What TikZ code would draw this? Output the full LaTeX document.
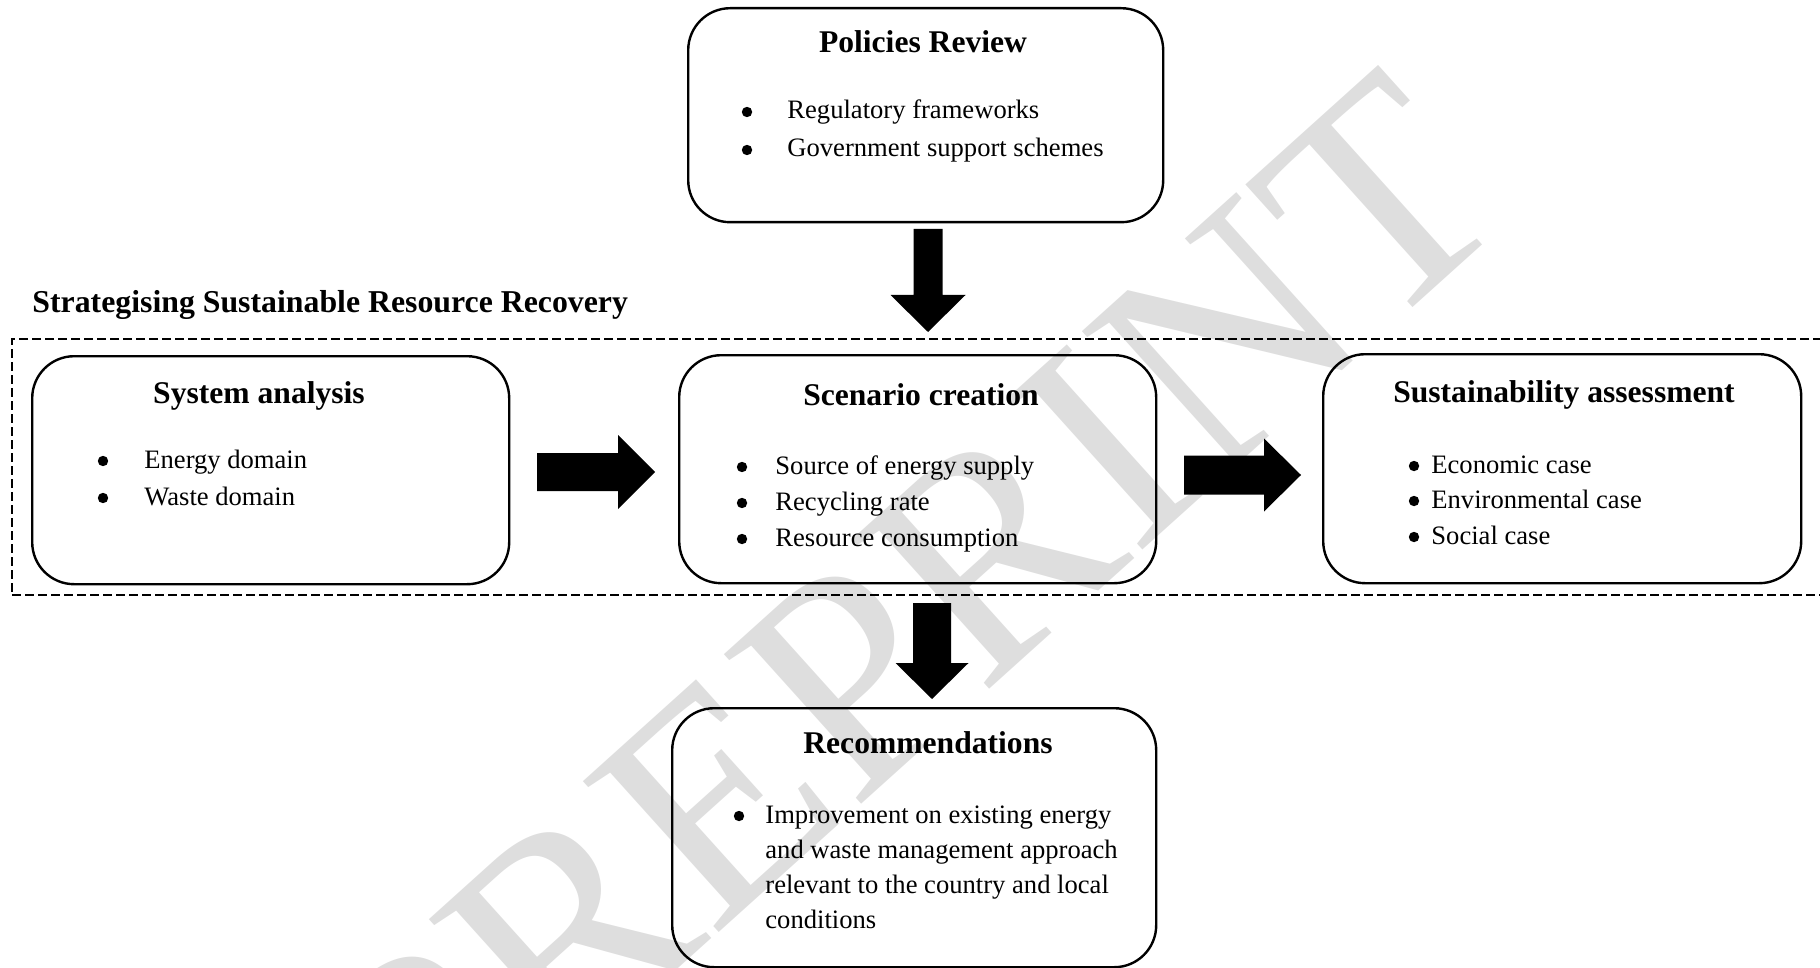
\documentclass[tikz,border=0pt]{standalone}
\usepackage{fontspec}
\setmainfont{Liberation Serif}
\definecolor{wm}{gray}{0.87}
\begin{document}
\begin{tikzpicture}[x=0.5pt,y=-0.5pt,
  box/.style={draw, line width=1.2pt, rounded corners=21pt, inner sep=0pt, anchor=north west},
  head/.style={font=\fontsize{15.8}{19}\selectfont\bfseries, anchor=base, inner sep=0pt},
  item/.style={font=\fontsize{13.3}{16}\selectfont, anchor=base west, inner sep=0pt},
  bul/.style={circle, fill, minimum size=5.2pt, inner sep=0pt},
  frame/.style={draw, line width=1pt, dash pattern=on 4.5pt off 2pt, anchor=north west, inner sep=0pt},
  pics/downblk/.style n args={4}{code={
    \fill (-#2/2,0) -- (#2/2,0) -- (#2/2,#1-#4) -- (#3/2,#1-#4) -- (0,#1)
          -- (-#3/2,#1-#4) -- (-#2/2,#1-#4) -- cycle;}},
  pics/rightblk/.style n args={4}{code={
    \fill (0,-#2/2) -- (#1-#4,-#2/2) -- (#1-#4,-#3/2) -- (#1,0)
          -- (#1-#4,#3/2) -- (#1-#4,#2/2) -- (0,#2/2) -- cycle;}}
]
\useasboundingbox (0,0) rectangle (1820,968);

% watermark behind everything
\node[text=wm, rotate=42, anchor=base east, font=\fontsize{155}{155}\selectfont, inner sep=0pt] (wmark) at (1519,212) {PREPRINT};

% Policies review
\node[box, minimum width=237.5pt, minimum height=107pt] (pol) at (687,7) {};
\node[head] (polh) at (923,53) {Policies Review};
\node[bul] (polb1) at (747,112) {};
\node[item] (pol1) at (787,119) {Regulatory frameworks};
\node[bul] (polb2) at (747,150) {};
\node[item] (pol2) at (787,157) {Government support schemes};

\pic (d1) at (928,229) {downblk={103}{29}{75}{37}};

% framework title and dashed frame
\node[head, anchor=base west, font=\fontsize{15.9}{19}\selectfont\bfseries] (title) at (32,313) {Strategising Sustainable Resource Recovery};
\node[frame, minimum width=915pt, minimum height=128pt] (frame) at (11,338) {};

% System analysis
\node[box, minimum width=238.5pt, minimum height=114pt] (sys) at (31,355) {};
\node[head] (sysh) at (259,403) {System analysis};
\node[bul] (sysb1) at (103,461) {};
\node[item] (sys1) at (144,468) {Energy domain};
\node[bul] (sysb2) at (103,498) {};
\node[item] (sys2) at (144,505) {Waste domain};

\pic (r1) at (537,472) {rightblk={118}{38}{74}{37}};

% Scenario creation
\node[box, minimum width=238.5pt, minimum height=114pt] (scn) at (678,354) {};
\node[head] (scnh) at (921,405) {Scenario creation};
\node[bul] (scnb1) at (742,467) {};
\node[item] (scn1) at (775,474) {Source of energy supply};
\node[bul] (scnb2) at (742,503) {};
\node[item] (scn2) at (775,510) {Recycling rate};
\node[bul] (scnb3) at (742,539) {};
\node[item] (scn3) at (775,546) {Resource consumption};

\pic (r2) at (1184,475) {rightblk={117}{39}{73}{37}};

% Sustainability assessment
\node[box, minimum width=239pt, minimum height=114.5pt] (sus) at (1322,353) {};
\node[head] (sush) at (1564,402) {Sustainability assessment};
\node[bul] (susb1) at (1414,466) {};
\node[item] (sus1) at (1431,473) {Economic case};
\node[bul] (susb2) at (1414,501) {};
\node[item] (sus2) at (1431,508) {Environmental case};
\node[bul] (susb3) at (1414,537) {};
\node[item] (sus3) at (1431,544) {Social case};

\pic (d2) at (932,603) {downblk={96}{38}{73}{36}};

% Recommendations
\node[box, minimum width=242pt, minimum height=129.5pt] (rec) at (671,707) {};
\node[head] (rech) at (928,753) {Recommendations};
\node[bul] (recb1) at (739,816) {};
\node[item] (rec1) at (765,823) {Improvement on existing energy};
\node[item] (rec2) at (765,858) {and waste management approach};
\node[item] (rec3) at (765,893) {relevant to the country and local};
\node[item] (rec4) at (765,928) {conditions};
\end{tikzpicture}
\end{document}
